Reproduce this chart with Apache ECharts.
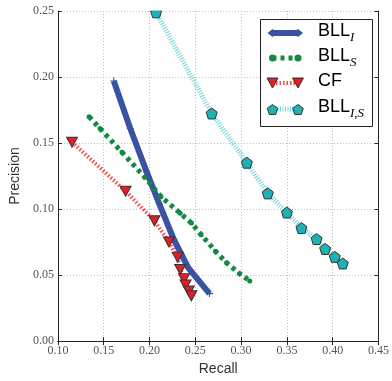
<!DOCTYPE html>
<html>
<head>
<meta charset="utf-8">
<script src="https://cdn.jsdelivr.net/npm/echarts@6/dist/echarts.min.js"></script>
<style>
  html, body { margin: 0; padding: 0; background: #fff; }
  #chart { width: 392px; height: 381px; }
</style>
</head>
<body>
<div id="chart"></div>
<script>
// Precision / recall curves for the four recommenders
const recallBLLI = [0.161, 0.179, 0.197, 0.2107, 0.2265, 0.2422, 0.2655];
const precisionBLLI = [0.197, 0.161, 0.128, 0.104, 0.077, 0.0556, 0.036];

const recallBLLS = [0.134, 0.146, 0.170, 0.195, 0.2125, 0.2335, 0.2458, 0.2563, 0.272, 0.2842, 0.2983, 0.3095];
const precisionBLLS = [0.170, 0.161, 0.143, 0.124, 0.1094, 0.0969, 0.0894, 0.0806, 0.0681, 0.0593, 0.0511, 0.0456];

const recallCF = [0.1154, 0.1739, 0.2054, 0.2212, 0.2307, 0.2335, 0.2377, 0.2394, 0.2429, 0.2457];
const precisionCF = [0.1507, 0.1136, 0.0911, 0.0751, 0.0636, 0.0543, 0.0473, 0.0425, 0.038, 0.0343];

const recallBLLIS = [0.2072, 0.2679, 0.3063, 0.3291, 0.350, 0.3659, 0.3824, 0.3918, 0.4023, 0.411];
const precisionBLLIS = [0.249, 0.1724, 0.1351, 0.1119, 0.0974, 0.0856, 0.0773, 0.0698, 0.0638, 0.0588];

const recallTicks = [0.10, 0.45, 0.05];
const precisionTicks = [0.00, 0.25, 0.05];

const zip = (xs, ys) => xs.map((x, i) => [x, ys[i]]);

const BLUE = '#3a52a3', GREEN = '#128a41', RED_LINE = '#f34a4a', RED = '#e31e26',
      CYAN_LINE = '#6fd6db', CYAN = '#1fb2b5', EDGE = '#333';

const PLUS = 'path://M4.2,0 L5.8,0 L5.8,4.2 L10,4.2 L10,5.8 L5.8,5.8 L5.8,10 L4.2,10 L4.2,5.8 L0,5.8 L0,4.2 L4.2,4.2 Z';
const TRI_DOWN = 'path://M0,0 L10,0 L5,9 Z';
const PENTAGON = 'path://M5,0 L10,3.63 L8.09,9.51 L1.91,9.51 L0,3.63 Z';

const tickFont = { fontFamily: 'Liberation Serif', fontSize: 12, color: '#555' };
const nameFont = { fontFamily: 'Liberation Sans', fontSize: 14, color: '#333' };
const axisLine = { show: true, lineStyle: { color: '#222', width: 1 } };
const axisTick = { show: true, inside: true, length: 4, lineStyle: { color: '#222' } };
const gridLine = { show: true, lineStyle: { color: '#bdbdbd', width: 1, type: [1, 2] } };

function xAxisBase(pos) {
  return { type: 'value', position: pos, min: recallTicks[0], max: recallTicks[1], interval: recallTicks[2],
    axisLine, axisTick };
}
function yAxisBase(pos) {
  return { type: 'value', position: pos, min: precisionTicks[0], max: precisionTicks[1], interval: precisionTicks[2],
    axisLine, axisTick };
}

// legend drawn as a framed box with two markers per entry
const legendRows = [
  { y: 33, color: BLUE, width: 6, dash: null, marker: 'plus', label: '{a|BLL}{s|I}' },
  { y: 58, color: GREEN, width: 5, dash: [4, 4], marker: 'circle', label: '{a|BLL}{s|S}' },
  { y: 83, color: RED_LINE, width: 4, dash: [1.5, 2], marker: 'tri', label: '{a|CF}' },
  { y: 109, color: CYAN_LINE, width: 5, dash: [1, 1.5], marker: 'pent', label: '{a|BLL}{s|I,S}' }
];
const mx1 = 272.5, mx2 = 298;

function legendMarker(kind, cx, cy) {
  if (kind === 'plus') {
    return { type: 'polygon', z: 101, shape: { points: [[cx - 5, cy], [cx, cy - 4], [cx + 5, cy], [cx, cy + 4]] },
      style: { fill: BLUE } };
  }
  if (kind === 'circle') {
    return { type: 'circle', z: 101, shape: { cx, cy, r: 3.5 }, style: { fill: GREEN } };
  }
  if (kind === 'tri') {
    return { type: 'polygon', z: 101, shape: { points: [[cx - 5.5, cy - 5], [cx + 5.5, cy - 5], [cx, cy + 5]] },
      style: { fill: RED, stroke: EDGE, lineWidth: 1 } };
  }
  const r = 5.5, pts = [];
  for (let k = 0; k < 5; k++) {
    const a = -Math.PI / 2 + k * 2 * Math.PI / 5;
    pts.push([cx + r * Math.cos(a), cy + 1 + r * Math.sin(a)]);
  }
  return { type: 'polygon', z: 101, shape: { points: pts }, style: { fill: CYAN, stroke: EDGE, lineWidth: 1 } };
}

const legendGraphics = [
  { type: 'rect', z: 100, shape: { x: 260.5, y: 19.5, width: 112, height: 107 },
    style: { fill: '#fff', stroke: '#222', lineWidth: 1 } }
];
legendRows.forEach(r => {
  legendGraphics.push({ type: 'line', z: 100, shape: { x1: mx1, y1: r.y, x2: mx2, y2: r.y },
    style: { stroke: r.color, lineWidth: r.width, lineDash: r.dash, lineCap: 'butt' } });
  legendGraphics.push(legendMarker(r.marker, mx1, r.y));
  legendGraphics.push(legendMarker(r.marker, mx2, r.y));
  legendGraphics.push({ type: 'text', z: 101, x: 318, y: r.y,
    style: { text: r.label, verticalAlign: 'middle', align: 'left',
      rich: {
        a: { fontFamily: 'Liberation Sans', fontSize: 18, color: '#222', lineHeight: 22, verticalAlign: 'top' },
        s: { fontFamily: 'Liberation Serif', fontStyle: 'italic', fontSize: 13, color: '#222', lineHeight: 12, verticalAlign: 'bottom' }
      } } });
});
// keeps the top pentagon trimmed at the frame edge
legendGraphics.push({ type: 'rect', z: 50, shape: { x: 138, y: 0, width: 24, height: 10.5 }, style: { fill: '#fff' } });

const chart = echarts.init(document.getElementById('chart'), null, { renderer: 'canvas' });
chart.setOption({
  animation: false,
  backgroundColor: '#fff',
  grid: { left: 48, right: 10, top: 11, bottom: 37 },
  xAxis: [
    Object.assign(xAxisBase('bottom'), {
      axisLabel: Object.assign({ formatter: v => v.toFixed(2), margin: 4 }, tickFont),
      splitLine: gridLine,
      name: 'Recall', nameLocation: 'middle', nameGap: 17, nameTextStyle: nameFont
    }),
    Object.assign(xAxisBase('top'), { axisLabel: { show: false }, splitLine: { show: false } })
  ],
  yAxis: [
    Object.assign(yAxisBase('left'), {
      axisLabel: Object.assign({ formatter: v => v.toFixed(2), margin: 4 }, tickFont),
      splitLine: gridLine,
      name: 'Precision', nameLocation: 'middle', nameGap: 27, nameTextStyle: nameFont
    }),
    Object.assign(yAxisBase('right'), { axisLabel: { show: false }, splitLine: { show: false } })
  ],
  series: [
    { name: 'BLL_I', type: 'line', data: zip(recallBLLI, precisionBLLI), showSymbol: true,
      symbol: PLUS, symbolSize: 7, itemStyle: { color: BLUE },
      lineStyle: { color: BLUE, width: 6 }, z: 2 },
    { name: 'BLL_S', type: 'line', data: zip(recallBLLS, precisionBLLS), showSymbol: true,
      symbol: 'circle', symbolSize: 5, itemStyle: { color: GREEN },
      lineStyle: { color: GREEN, width: 5, type: [4, 4], cap: 'butt' }, z: 3 },
    { name: 'CF', type: 'line', data: zip(recallCF, precisionCF), showSymbol: true,
      symbol: TRI_DOWN, symbolSize: [11, 10], itemStyle: { color: RED, borderColor: EDGE, borderWidth: 1 },
      lineStyle: { color: RED_LINE, width: 4, type: [1.5, 2], cap: 'butt' }, z: 4 },
    { name: 'BLL_I,S', type: 'line', data: zip(recallBLLIS, precisionBLLIS), showSymbol: true,
      symbol: PENTAGON, symbolSize: 11, itemStyle: { color: CYAN, borderColor: EDGE, borderWidth: 1 },
      lineStyle: { color: CYAN_LINE, width: 5, type: [1, 1.5], cap: 'butt' }, z: 5 }
  ],
  graphic: legendGraphics
});
</script>
</body>
</html>
